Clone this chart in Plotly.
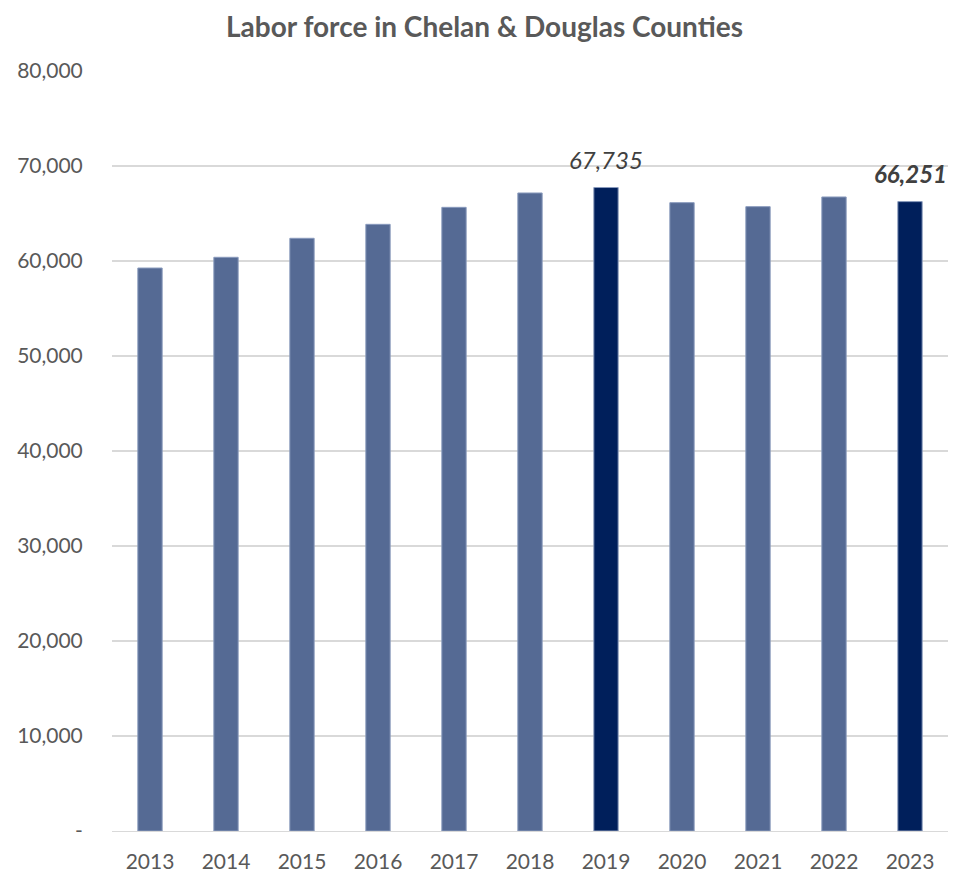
import plotly.graph_objects as go

years = ["2013", "2014", "2015", "2016", "2017", "2018", "2019", "2020", "2021", "2022", "2023"]
labor_force = [59260, 60390, 62390, 63860, 65650, 67160, 67735, 66140, 65720, 66740, 66251]
highlight_years = ["2019", "2023"]
label_texts = {"2019": "<i>67,735</i>", "2023": "<b><i>66,251</i></b>"}
y_tick_vals = [0, 10000, 20000, 30000, 40000, 50000, 60000, 70000, 80000]
y_tick_text = ["-", "10,000", "20,000", "30,000", "40,000", "50,000", "60,000", "70,000", "80,000"]

light = "#556a94"
dark = "#001f5b"
colors = [dark if y in highlight_years else light for y in years]

FONT = "Lato, 'Open Sans', sans-serif"

fig = go.Figure(go.Bar(
    x=years, y=labor_force,
    marker=dict(color=colors, line=dict(color="#8a9bbd", width=1)),
    width=0.32,
    hoverinfo="x+y",
))

# category axis: annotations placed by category index
for i, (yr, val) in enumerate(zip(years, labor_force)):
    if yr in label_texts:
        fig.add_annotation(x=i, y=val, text=label_texts[yr], showarrow=False,
                           yanchor="bottom", xanchor="center", yshift=12,
                           font=dict(family=FONT, size=24, color="#404040"))

fig.update_layout(
    width=953, height=865,
    margin=dict(l=104, r=13, t=63, b=42),
    paper_bgcolor="white", plot_bgcolor="white",
    font=dict(family=FONT, color="#595959", size=21),
    title=dict(text="<b>Labor force in Chelan &amp; Douglas Counties</b>", x=0.5, xanchor="center",
               y=0.978, yanchor="middle", font=dict(family=FONT, size=28, color="#595959")),
    showlegend=False,
)
fig.update_xaxes(type="category", range=[-0.5, len(years) - 0.5], showline=True,
                 linecolor="#d9d9d9", linewidth=1, ticks="outside", ticklen=12,
                 tickcolor="rgba(0,0,0,0)", automargin=False,
                 showgrid=False, tickfont=dict(size=21, color="#595959"))
fig.update_yaxes(range=[0, 80000], tickvals=y_tick_vals, ticktext=y_tick_text,
                 showgrid=True, gridcolor="#d9d9d9", gridwidth=1.5, zeroline=False,
                 ticks="outside", ticklen=24, tickcolor="rgba(0,0,0,0)", automargin=False,
                 tickfont=dict(size=21, color="#595959"))

fig.write_html("out.html")
